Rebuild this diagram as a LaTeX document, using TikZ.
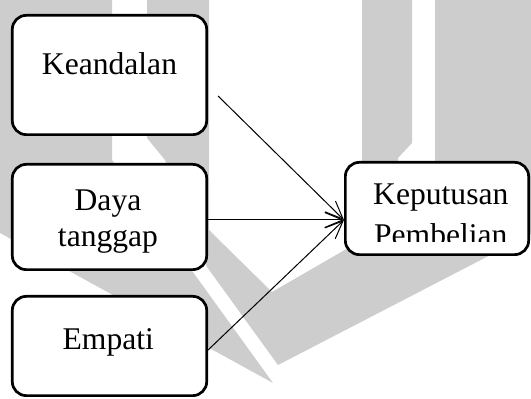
\documentclass[tikz,border=0pt]{standalone}
\usepackage{fontspec}
\setmainfont{Liberation Serif}
\usetikzlibrary{arrows.meta}
\definecolor{wmgray}{RGB}{205,205,205}
\tikzstyle{box} = [rectangle, rounded corners=7pt, minimum width=97.2pt, draw=black, line width=1.35pt, fill=white, inner sep=0pt]
\tikzstyle{txt} = [align=center, inner sep=0pt, anchor=base, font=\fontsize{15.8}{18}\selectfont]
\tikzstyle{arrow} = [line width=0.5pt, -{Straight Barb[length=9pt,width=7.5pt]}]

\begin{document}
\begin{tikzpicture}[node distance=71pt]
        \useasboundingbox (0,0) rectangle (265.5pt,-199.5pt);
        % watermark in the back
        \begin{scope}[x=0.5pt, y=-0.5pt]
            \fill[wmgray] (0,0) -- (112,0) -- (112,160) -- (273,383) -- (0,233) -- cycle;
            \fill[wmgray] (147,0) -- (209,0) -- (209,230) -- (272,292) -- (362,240) -- (362,0) -- (412,0) -- (412,143) -- (398,158) -- (398,175) -- (435,175) -- (435,0) -- (531,0) -- (531,234) -- (278,365) -- (207,267) -- (165,160) -- (147,138) -- cycle;
        \end{scope}

        \node (k) [box, minimum height=59.65pt] at (54.75pt,-37.5pt) {};
        \node (d) [box, minimum height=52.65pt, below of = k] {};
        \node (e) [box, minimum height=49.65pt, below of = d, yshift=6.5pt] {};
        \node (p) [box, minimum width=91.65pt, minimum height=46.15pt, right of = d, xshift=92.75pt, yshift=4.25pt] {};

        \node (kt) [txt] at (k.center) {Keandalan};
        \node (dt) [txt, xshift=-0.75pt, yshift=-14.85pt] at (d.center) {Daya\\tanggap};
        \node (et) [txt, xshift=-0.6pt, yshift=-1.65pt] at (e.center) {Empati};
        \begin{scope}
            \clip (p.north west) rectangle ([yshift=7.3pt]p.south east);
            \node (pkt) [txt, xshift=1.9pt, yshift=-18.75pt] at (p.center) {Keputusan\\[2.5pt]Pembelian};
        \end{scope}

        \draw[arrow] ([xshift=5pt, yshift=-10.5pt]k.east) -- ([yshift=-5.75pt]p.west);
        \draw[arrow] ([yshift=-1.5pt]d.east) -- ([yshift=-5.75pt]p.west);
        \draw[arrow] ([yshift=-2pt]e.east) -- ([yshift=-5.75pt]p.west);
    \end{tikzpicture}
\end{document}
